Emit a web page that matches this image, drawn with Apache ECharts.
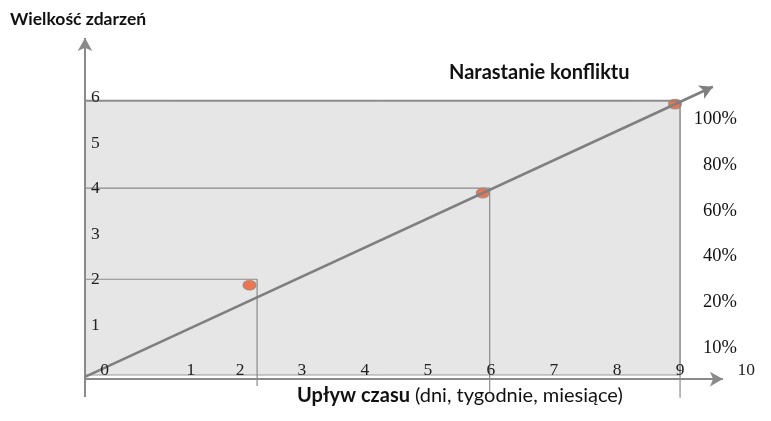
<!DOCTYPE html>
<html>
<head>
<meta charset="utf-8">
<script src="https://cdn.jsdelivr.net/npm/echarts@6/dist/echarts.min.js"></script>
<style>
  html, body { margin: 0; padding: 0; background: #fff; }
  #main { width: 771px; height: 421px; }
</style>
</head>
<body>
<div id="main"></div>
<script>
// tick labels and where they sit on the axes
const xTickLabels = ["0", "1", "2", "3", "4", "5", "6", "7", "8", "9", "10"];
const xTickAt = [-0.13, 1.24, 2.02, 3, 4, 5, 6, 7, 8, 9, 10.05];
const yTickLabels = ["1", "2", "3", "4", "5", "6"];
const yTickAt = [1, 2, 3, 4, 5, 6];
const pctLabels = ["10%", "20%", "40%", "60%", "80%", "100%"];
const pctAt = [0.6, 1.6, 2.6, 3.6, 4.6, 5.6];

// zdarzenia (kropki) i linie pomocnicze
const eventX = [2.17, 5.87, 8.92];
const eventY = [1.97, 3.99, 5.94];
const guideX = [2.29, 5.98, 9.0];
const guideY = [2.1, 4.1, 6.02];
const guideBottom = [-0.24, -0.37, -0.5];

// linia narastania konfliktu
const trendStart = [-0.44, -0.04];
const trendEnd = [9.52, 6.32];

// osie
const xMin = -0.44, xMax = 10.3;
const yMin = -0.8, yMax = 7.6;
const boxRight = 9, boxTop = 6;
const yArrowBottom = -0.48, yArrowTop = 7.39;
const xArrowY = -0.09, xArrowEnd = 9.68;

var chartDom = document.getElementById("main");
var myChart = echarts.init(chartDom);
var option;

const gray = "#8a8a8a";
const serif = "Liberation Serif";
const sans = "Lato";

// linie pomocnicze: poziomo od osi Y do zdarzenia, potem w dół
const guideSeries = guideX.map((gx, i) => ({
  type: "line",
  data: [[xMin, guideY[i]], [gx, guideY[i]], [gx, guideBottom[i]]],
  showSymbol: false,
  silent: true,
  z: 3,
  lineStyle: { color: gray, width: 1.2 },
}));

option = {
  animation: false,
  title: [
    {
      text: "Wielkość zdarzeń",
      left: 10,
      top: 10,
      padding: 0,
      textStyle: { fontFamily: sans, fontWeight: "bold", fontSize: 17.5, color: "#111" },
    },
    {
      text: "Narastanie konfliktu",
      left: 449,
      top: 63,
      padding: 0,
      textStyle: { fontFamily: sans, fontWeight: "bold", fontSize: 20, color: "#111" },
    },
    {
      text: "{b|Upływ czasu} {n|(dni, tygodnie, miesiące)}",
      left: 297,
      top: 386,
      padding: 0,
      textStyle: {
        rich: {
          b: { fontFamily: sans, fontWeight: "bold", fontSize: 20, color: "#111" },
          n: { fontFamily: sans, fontWeight: "normal", fontSize: 20, color: "#111" },
        },
      },
    },
  ],
  grid: { left: 85, right: 9, top: 28.4, bottom: 9.5 },
  xAxis: {
    type: "value",
    min: xMin,
    max: xMax,
    offset: -36.5,
    z: 5,
    axisLine: { show: false },
    axisTick: { show: false },
    splitLine: { show: false },
    axisLabel: {
      inside: true,
      margin: -4,
      customValues: xTickAt,
      formatter: (v) => xTickLabels[xTickAt.indexOf(v)],
      fontFamily: serif,
      fontSize: 17.5,
      color: "#222",
    },
  },
  yAxis: [
    {
      type: "value",
      min: yMin,
      max: yMax,
      z: 5,
      axisLine: { show: false, onZero: false },
      axisTick: { show: false },
      splitLine: { show: false },
      axisLabel: {
        inside: true,
        margin: 6,
        verticalAlign: "bottom",
        lineHeight: 8,
        customValues: yTickAt,
        formatter: (v) => yTickLabels[yTickAt.indexOf(v)],
        fontFamily: serif,
        fontSize: 17.5,
        color: "#222",
      },
    },
    {
      type: "value",
      position: "right",
      min: yMin,
      max: yMax,
      z: 5,
      axisLine: { show: false, onZero: false },
      axisTick: { show: false },
      splitLine: { show: false },
      axisLabel: {
        inside: true,
        margin: 25,
        customValues: pctAt,
        formatter: (v) => pctLabels[pctAt.indexOf(v)],
        fontFamily: serif,
        fontSize: 18.5,
        color: "#111",
      },
    },
  ],
  series: [
    {
      // szare pole
      type: "line",
      data: [],
      silent: true,
      z: 1,
      markArea: {
        silent: true,
        itemStyle: { color: "#e6e6e6", borderColor: "#9a9a9a", borderWidth: 1 },
        data: [[{ coord: [xMin, 0] }, { coord: [boxRight, boxTop] }]],
      },
    },
    {
      type: "scatter",
      data: eventX.map((x, i) => [x, eventY[i]]),
      symbol: "circle",
      symbolSize: [13, 10],
      z: 2,
      itemStyle: { color: "#ef5a2a", borderColor: "#8a8a8a", borderWidth: 1 },
    },
    ...guideSeries,
    {
      // strzałki osi i linii narastania konfliktu
      type: "line",
      data: [],
      silent: true,
      z: 4,
      markLine: {
        silent: true,
        symbol: ["none", "arrow"],
        symbolSize: [11, 13],
        label: { show: false },
        lineStyle: { color: gray, width: 2, type: "solid" },
        data: [
          [{ coord: [xMin, yArrowBottom] }, { coord: [xMin, yArrowTop] }],
          [{ coord: [xMin, xArrowY] }, { coord: [xArrowEnd, xArrowY] }],
          [
            { coord: trendStart, lineStyle: { width: 2.6, color: "#7f7f7f" } },
            { coord: trendEnd },
          ],
        ],
      },
    },
  ],
};

option && myChart.setOption(option);
</script>
</body>
</html>
